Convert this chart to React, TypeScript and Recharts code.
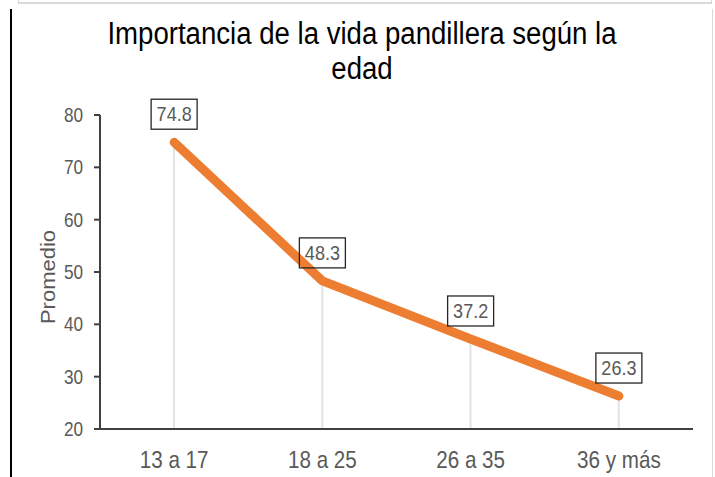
import {
  ComposedChart,
  Line,
  Bar,
  XAxis,
  YAxis,
  LabelList,
} from "recharts";

const categories = ["13 a 17", "18 a 25", "26 a 35", "36 y más"];
const promedio = [74.8, 48.3, 37.2, 26.3];
const yTicks = [20, 30, 40, 50, 60, 70, 80];

const data = categories.map((name, i) => ({ name, value: promedio[i] }));

// no narrow font installed, so squeeze Liberation Sans horizontally
const FONT = '"Liberation Sans", Arial, sans-serif';
const SQUEEZE = 0.86;
const GRAY_TEXT = "#595959";

const XTick = (props: any) => {
  const { x, y, payload } = props;
  return (
    <text
      transform={`translate(${x},${y + 37}) scale(${SQUEEZE},1)`}
      textAnchor="middle"
      fontSize={24}
      fontFamily={FONT}
      fill={GRAY_TEXT}
    >
      {payload.value}
    </text>
  );
};

const YTick = (props: any) => {
  const { x, y, payload } = props;
  return (
    <text
      transform={`translate(${x - 9},${y + 7}) scale(${SQUEEZE},1)`}
      textAnchor="end"
      fontSize={20}
      fontFamily={FONT}
      fill={GRAY_TEXT}
    >
      {payload.value}
    </text>
  );
};

const YTitle = (props: any) => {
  const vb = props.viewBox || {};
  const cx = 55;
  const cy = (vb.y ?? 115) + (vb.height ?? 314) / 2 + 5;
  return (
    <text
      transform={`translate(${cx},${cy}) scale(0.92,1) rotate(-90)`}
      textAnchor="middle"
      fontSize={22}
      fontFamily={FONT}
      fill={GRAY_TEXT}
    >
      Promedio
    </text>
  );
};

const BoxLabel = (props: any) => {
  const { x, y, value } = props;
  const w = 46;
  const h = 30;
  const cy = y - 28;
  return (
    <g>
      <rect
        x={x - w / 2}
        y={cy - h / 2}
        width={w}
        height={h}
        fill="none"
        stroke="#262626"
        strokeWidth={1.3}
      />
      <text
        transform={`translate(${x},${cy + 7}) scale(0.9,1)`}
        textAnchor="middle"
        fontSize={20}
        fontFamily={FONT}
        fill={GRAY_TEXT}
      >
        {value}
      </text>
    </g>
  );
};

export default function App() {
  return (
    <div
      style={{
        position: "absolute",
        left: 0,
        top: 0,
        width: 715,
        height: 477,
        background: "#fff",
        overflow: "hidden",
        fontFamily: FONT,
      }}
    >
      {/* frame bits from the source screenshot */}
      <div
        style={{
          position: "absolute",
          left: 18,
          top: 0,
          width: 692,
          height: 2,
          borderLeft: "1px solid #d9d9d9",
          borderRight: "1px solid #d9d9d9",
          borderBottom: "2px solid #d9d9d9",
        }}
      />
      <div style={{ position: "absolute", left: 10, top: 9, width: 2, height: 468, background: "#000" }} />
      <div style={{ position: "absolute", left: 712, top: 9, width: 1, height: 468, background: "#d9d9d9" }} />

      <div
        style={{
          position: "absolute",
          left: 0,
          top: 16,
          width: 724,
          textAlign: "center",
          fontSize: 31,
          lineHeight: "35px",
          color: "#000",
          transform: "scaleX(0.89)",
          transformOrigin: "362px 0",
        }}
      >
        Importancia de la vida pandillera según la
        <br />
        edad
      </div>

      <div style={{ position: "absolute", left: 0, top: 0 }}>
        <ComposedChart
          width={715}
          height={477}
          data={data}
          margin={{ top: 115, right: 22, bottom: 8, left: 0 }}
        >
          <XAxis
            dataKey="name"
            height={40}
            tickLine={false}
            tickSize={0}
            axisLine={{ stroke: "#404040", strokeWidth: 2 }}
            tick={<XTick />}
          />
          <YAxis
            width={100}
            domain={[20, 80]}
            ticks={yTicks}
            interval={0}
            tickSize={6}
            axisLine={{ stroke: "#404040", strokeWidth: 2 }}
            tickLine={{ stroke: "#404040", strokeWidth: 2 }}
            tick={<YTick />}
            label={(p: any) => <YTitle {...p} />}
          />
          <Bar dataKey="value" barSize={2} fill="#e3e3e3" isAnimationActive={false} />
          <Line
            dataKey="value"
            stroke="#ED7D31"
            strokeWidth={9}
            strokeLinecap="round"
            strokeLinejoin="round"
            dot={false}
            activeDot={false}
            isAnimationActive={false}
          >
            <LabelList dataKey="value" content={<BoxLabel />} />
          </Line>
        </ComposedChart>
      </div>
    </div>
  );
}
